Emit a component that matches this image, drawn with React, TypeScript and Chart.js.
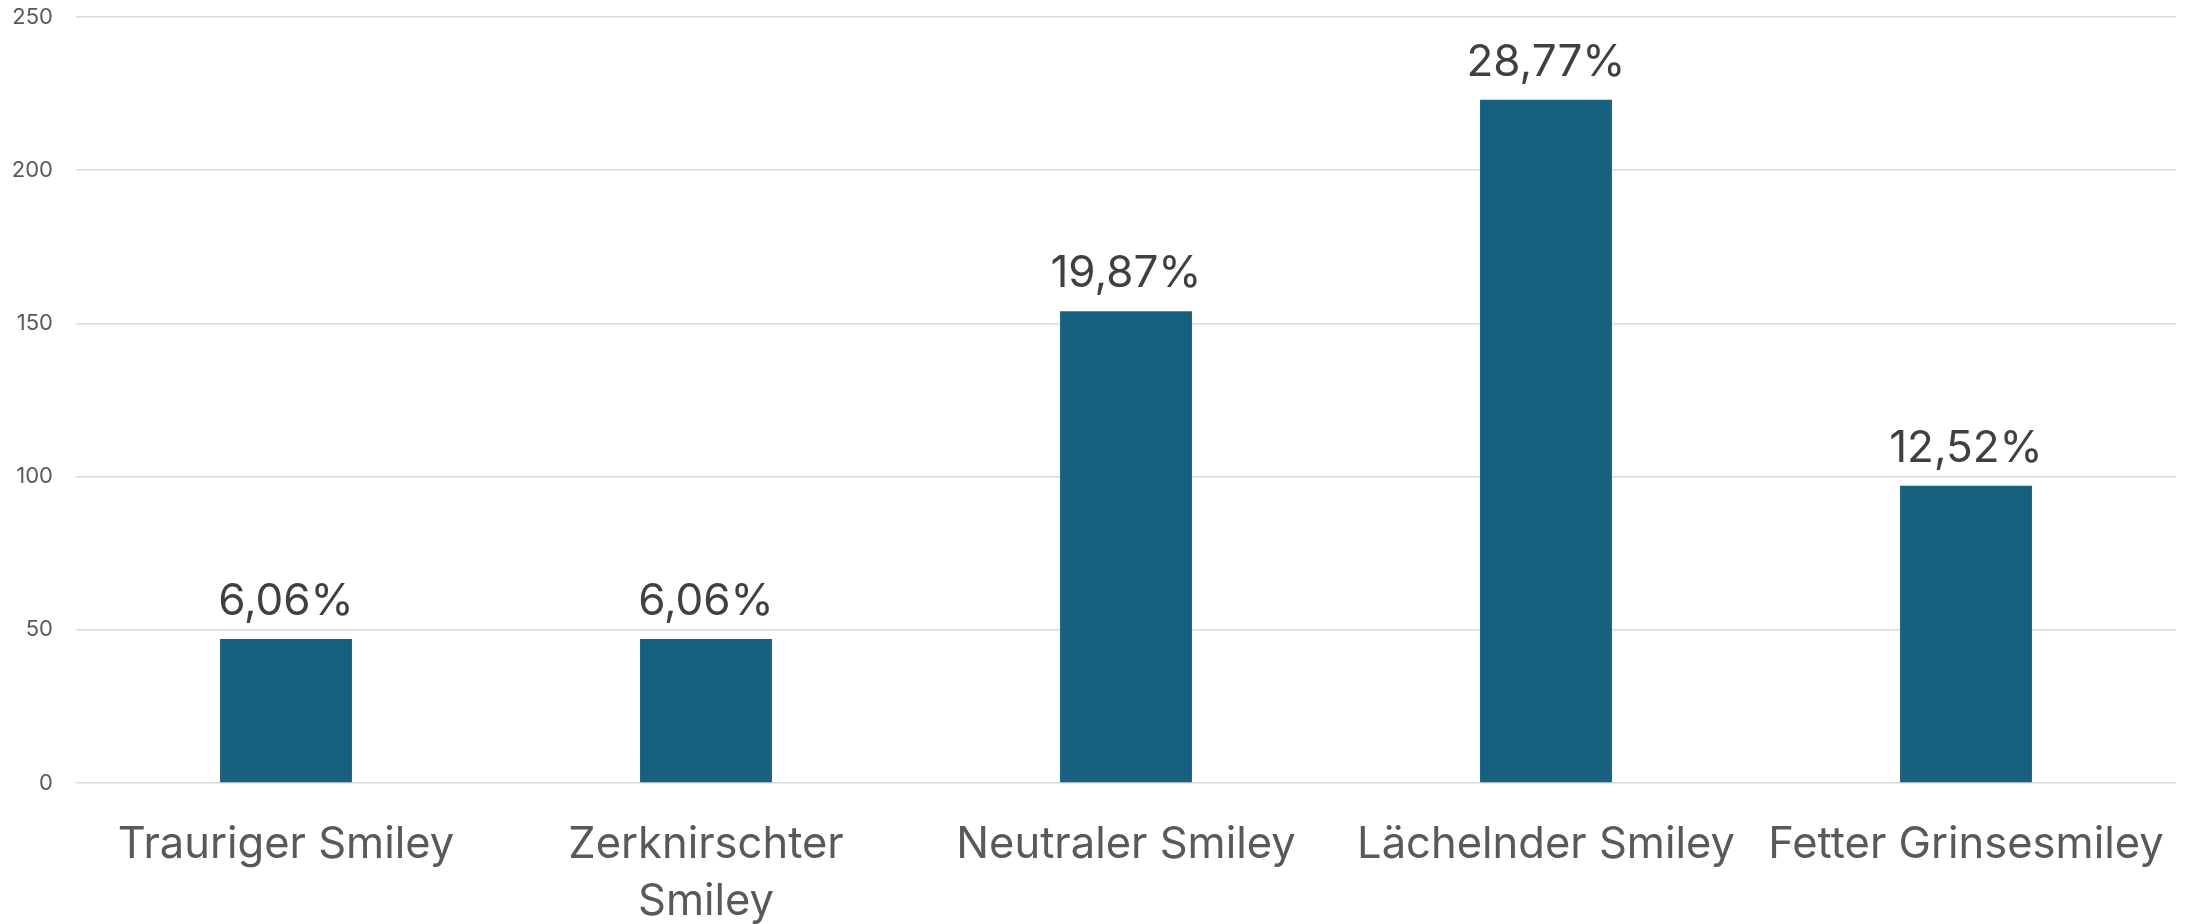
import React, { useEffect, useRef } from "react";
import { Chart, registerables } from "chart.js";

Chart.register(...registerables);

const categories: (string | string[])[] = [
  "Trauriger Smiley",
  ["Zerknirschter", "Smiley"],
  "Neutraler Smiley",
  "Lächelnder Smiley",
  "Fetter Grinsesmiley",
];
const counts = [47, 47, 154, 223, 97];
const percentLabels = ["6,06%", "6,06%", "19,87%", "28,77%", "12,52%"];
const yTicks = [0, 50, 100, 150, 200, 250];

const FONT = "Inter, 'Open Sans', 'Noto Sans', sans-serif";

const dataLabelPlugin = {
  id: "dataLabels",
  afterDatasetsDraw(chart: any) {
    const ctx = chart.ctx;
    const meta = chart.getDatasetMeta(0);
    ctx.save();
    ctx.font = `44px ${FONT}`;
    ctx.fillStyle = "#404040";
    ctx.textAlign = "center";
    ctx.textBaseline = "alphabetic";
    meta.data.forEach((bar: any, i: number) => {
      ctx.fillText(percentLabels[i], bar.x, bar.y - 24);
    });
    ctx.restore();
  },
};

export default function App() {
  const ref = useRef<HTMLCanvasElement>(null);
  useEffect(() => {
    if (!ref.current) return;
    const chart = new Chart(ref.current, {
      type: "bar",
      data: {
        labels: categories,
        datasets: [
          {
            data: counts,
            backgroundColor: "#17607F",
            borderWidth: 0,
            categoryPercentage: 1,
            barPercentage: 0.314,
          },
        ],
      },
      options: {
        animation: false,
        responsive: false,
        maintainAspectRatio: false,
        layout: { padding: { top: 17, right: 14, left: 0, bottom: 0 } },
        plugins: {
          legend: { display: false },
          tooltip: { enabled: false },
        },
        scales: {
          x: {
            grid: { display: false, drawTicks: false },
            border: { display: false },
            ticks: {
              color: "#595959",
              font: { family: FONT, size: 43.5, lineHeight: 1.3 },
              padding: 34,
              maxRotation: 0,
              autoSkip: false,
            },
            afterFit(scale: any) {
              scale.height = 924 - 783;
              scale.paddingLeft = 0;
              scale.paddingRight = 0;
            },
          },
          y: {
            min: 0,
            max: 250,
            afterBuildTicks(scale: any) {
              scale.ticks = yTicks.map((v) => ({ value: v }));
            },
            grid: { color: "#d9d9d9", lineWidth: 1.5, drawTicks: false },
            border: { display: false },
            ticks: {
              color: "#595959",
              font: { family: FONT, size: 22 },
              padding: 23,
            },
            afterFit(scale: any) {
              scale.width = 76;
              scale.paddingTop = 0;
              scale.paddingBottom = 0;
            },
          },
        },
      },
      plugins: [dataLabelPlugin],
    });
    return () => chart.destroy();
  }, []);
  return (
    <div style={{ position: "absolute", left: 0, top: 0, width: 2190, height: 924, background: "#fff" }}>
      <canvas ref={ref} width={2190} height={924} style={{ width: 2190, height: 924 }} />
    </div>
  );
}
